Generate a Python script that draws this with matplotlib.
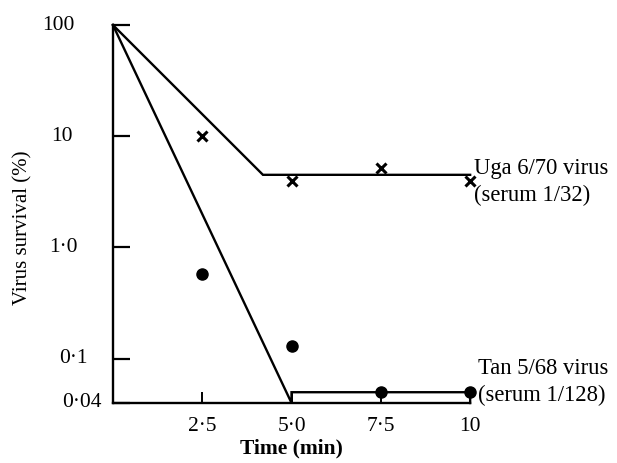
import matplotlib
matplotlib.use('Agg')
import matplotlib.pyplot as plt
from matplotlib.ticker import FixedLocator, NullLocator

# Veriler
time_pts = [2.5, 5.0, 7.5, 10.0]
uga_survival = [10.0, 4.0, 5.15, 4.0]
tan_survival = [0.58, 0.13, 0.05, 0.05]

# Çizilen eğriler
uga_line_x = [0.0, 4.2, 10.0]
uga_line_y = [100.0, 4.5, 4.5]
tan_line_x = [0.0, 5.0, 5.0, 10.0, 10.0]
tan_line_y = [100.0, 0.04, 0.05, 0.05, 0.04]

y_ticks = [0.04, 0.1, 1.0, 10.0, 100.0]
y_labels = ['0·04', '0·1', '1·0', '10', '100']
x_ticks = [2.5, 5.0, 7.5, 10.0]
x_labels = ['2·5', '5·0', '7·5', '10']

plt.rcParams['font.family'] = ['Liberation Serif', 'DejaVu Serif']

fig = plt.figure(figsize=(6.17, 4.63), dpi=100)
ax = fig.add_axes([0.183, 0.1296, 0.579, 0.8164])

ax.plot(uga_line_x, uga_line_y, color='black', lw=1.7, solid_joinstyle='miter', clip_on=False)
ax.plot(tan_line_x, tan_line_y, color='black', lw=1.7, solid_joinstyle='miter', clip_on=False)
ax.plot(time_pts, uga_survival, 'x', color='black', ms=7.5, mew=2.2, linestyle='none', clip_on=False)
ax.plot(time_pts, tan_survival, 'o', color='black', ms=8, linestyle='none', clip_on=False)

ax.set_yscale('log')
ax.set_ylim(0.04, 100)
ax.set_xlim(0, 10)
ax.yaxis.set_major_locator(FixedLocator(y_ticks))
ax.yaxis.set_minor_locator(NullLocator())
ax.set_xticks(x_ticks)
ax.set_xticklabels(x_labels)

for s in ['top', 'right']:
    ax.spines[s].set_visible(False)
for s in ['left', 'bottom']:
    ax.spines[s].set_linewidth(1.7)

ax.tick_params(axis='y', direction='in', length=12, width=1.6, labelleft=False)
ax.tick_params(axis='x', direction='in', length=8, width=1.4, labelsize=15.5, pad=10)

# y etiketleri elle yerleştirildi (orijinalde hizasız)
label_x = [-0.031, -0.070, -0.098, -0.112, -0.106]
for yv, lab, lx in zip(y_ticks, y_labels, label_x):
    ax.text(lx, yv, lab, transform=ax.get_yaxis_transform(), fontsize=15.5,
            ha='right', va='center')

ax.set_ylabel('Virus survival (%)', fontsize=15)
ax.yaxis.set_label_coords(-0.224, 0.463)
ax.set_xlabel('Time (min)', fontsize=15.5, fontweight='bold', labelpad=2)

ax.text(10.1, 5.15, 'Uga 6/70 virus', fontsize=16.3, va='center', ha='left', clip_on=False)
ax.text(10.1, 2.95, '(serum 1/32)', fontsize=16.3, va='center', ha='left', clip_on=False)
ax.text(10.22, 0.081, 'Tan 5/68 virus', fontsize=16.3, va='center', ha='left', clip_on=False)
ax.text(10.22, 0.047, '(serum 1/128)', fontsize=16.3, va='center', ha='left', clip_on=False)

fig.savefig('out.png', dpi=100)
